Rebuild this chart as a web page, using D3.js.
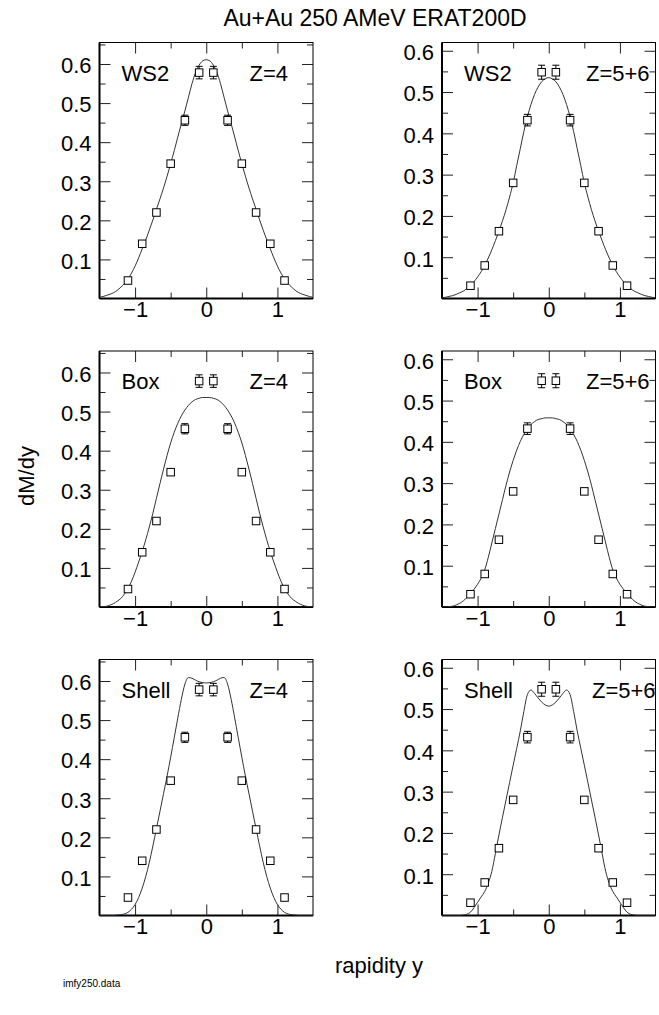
<!DOCTYPE html>
<html><head><meta charset="utf-8">
<script src="https://cdn.jsdelivr.net/npm/d3@7"></script>
<style>
body{margin:0;background:#fff}
svg{display:block}
text{font-family:"Liberation Sans",Arial,Helvetica,sans-serif;fill:#000}
</style>
</head><body>
<svg id="chart" width="659" height="1015"></svg>
<script>
// ---------- data ----------
const titleText = "Au+Au 250 AMeV ERAT200D";
const xTitle = "rapidity y";
const yTitle = "dM/dy";
const fileText = "imfy250.data";
const modelNames = ["WS2", "Box", "Shell"];
const chargeNames = ["Z=4", "Z=5+6"];
const xTickValues = [-1, 0, 1];
const xMinorValues = [-0.5, 0.5];
const yTickValues = [0.1, 0.2, 0.3, 0.4, 0.5, 0.6];
const yMinorValues = [0.05, 0.15, 0.25, 0.35, 0.45, 0.55, 0.65];

// measured points (same data in every row)
const dataX = [-1.1, -0.9, -0.7, -0.5, -0.3, -0.1, 0.1, 0.3, 0.5, 0.7, 0.9, 1.1];
const z4Y   = [0.046, 0.140, 0.220, 0.345, 0.456, 0.578, 0.578, 0.456, 0.345, 0.220, 0.140, 0.046];
const z4Err = [0, 0, 0, 0, 0.013, 0.016, 0.016, 0.013, 0, 0, 0, 0];
const z56Y  = [0.031, 0.080, 0.163, 0.280, 0.432, 0.548, 0.548, 0.432, 0.280, 0.163, 0.080, 0.031];
const z56Err = [0, 0, 0, 0, 0.014, 0.017, 0.017, 0.014, 0, 0, 0, 0];

// model curves, sampled at curveX
const curveX = [-1.5,-1.45,-1.4,-1.35,-1.3,-1.25,-1.2,-1.15,-1.1,-1.05,-1.0,-0.95,-0.9,-0.85,-0.8,-0.75,-0.7,-0.65,-0.6,-0.55,-0.5,-0.45,-0.4,-0.35,-0.3,-0.25,-0.2,-0.15,-0.1,-0.05,0,
  0.05,0.1,0.15,0.2,0.25,0.3,0.35,0.4,0.45,0.5,0.55,0.6,0.65,0.7,0.75,0.8,0.85,0.9,0.95,1.0,1.05,1.1,1.15,1.2,1.25,1.3,1.35,1.4,1.45,1.5];
const ws2Z4 = [.003,.005,.008,.011,.015,.021,.029,.038,.050,.065,.083,.104,.127,.150,.175,.201,.228,.255,.283,.313,.345,.378,.413,.447,.480,.515,.550,.578,.597,.608,.611,
  .608,.597,.578,.550,.515,.480,.447,.413,.378,.345,.313,.283,.255,.228,.201,.175,.150,.127,.104,.083,.065,.050,.038,.029,.021,.015,.011,.008,.005,.003];
const ws2Z56 = [.002,.003,.005,.007,.010,.014,.018,.024,.031,.041,.052,.065,.080,.098,.118,.140,.163,.188,.215,.246,.280,.322,.363,.404,.440,.470,.494,.512,.525,.532,.535,
  .532,.525,.512,.494,.470,.440,.404,.363,.322,.280,.246,.215,.188,.163,.140,.118,.098,.080,.065,.052,.041,.031,.024,.018,.014,.010,.007,.005,.003,.002];
const boxZ4 = [0,.001,.002,.005,.009,.015,.022,.033,.047,.066,.089,.115,.142,.172,.205,.240,.278,.316,.353,.388,.420,.447,.470,.489,.504,.516,.525,.531,.534,.536,.536,
  .536,.534,.531,.525,.516,.504,.489,.470,.447,.420,.388,.353,.316,.278,.240,.205,.172,.142,.115,.089,.066,.047,.033,.022,.015,.009,.005,.002,.001,0];
const boxZ56 = [0,0,.001,.002,.005,.009,.015,.023,.032,.043,.055,.070,.090,.120,.155,.190,.225,.260,.295,.327,.355,.380,.401,.418,.432,.442,.449,.454,.456,.458,.458,
  .458,.456,.454,.449,.442,.432,.418,.401,.380,.355,.327,.295,.260,.225,.190,.155,.120,.090,.070,.055,.043,.032,.023,.015,.009,.005,.002,.001,0,0];
const shellZ4 = [0,0,0,0,0,.001,.002,.004,.008,.016,.028,.046,.070,.100,.136,.178,.222,.267,.312,.357,.405,.455,.505,.553,.592,.609,.607,.602,.598,.596,.595,
  .596,.598,.602,.607,.609,.592,.553,.505,.455,.405,.357,.312,.267,.222,.178,.136,.100,.070,.046,.028,.016,.008,.004,.002,.001,0,0,0,0,0];
const shellZ56 = [0,0,0,0,0,0,.001,.003,.008,.019,.032,.045,.058,.078,.107,.150,.195,.238,.280,.322,.364,.405,.447,.494,.535,.546,.538,.527,.517,.510,.507,
  .510,.517,.527,.538,.546,.535,.494,.447,.405,.364,.322,.280,.238,.195,.150,.107,.078,.058,.045,.032,.019,.008,.003,.001,0,0,0,0,0,0];

// ---------- layout ----------
const colX = [99.5, 442];
const rowY = [42.5, 351, 659.5];
const panelW = 213.5, panelH = 256;
const yMaxByCol = [0.655, 0.62];
const chargeLabelDx = [[150, 144], [150, 144], [150, 150]];

const panels = [
  {row:0, col:0, curve: ws2Z4,  y: z4Y,  err: z4Err},
  {row:0, col:1, curve: ws2Z56, y: z56Y, err: z56Err},
  {row:1, col:0, curve: boxZ4,  y: z4Y,  err: z4Err},
  {row:1, col:1, curve: boxZ56, y: z56Y, err: z56Err},
  {row:2, col:0, curve: shellZ4,  y: z4Y,  err: z4Err},
  {row:2, col:1, curve: shellZ56, y: z56Y, err: z56Err}
];

const svg = d3.select("#chart");
svg.append("rect").attr("width", 659).attr("height", 1015).attr("fill", "#fff");

svg.append("text").attr("x", 375).attr("y", 26).attr("text-anchor", "middle")
  .style("font-size", "23px").text(titleText);
svg.append("text").attr("transform", "translate(34,476) rotate(-90)").attr("text-anchor", "middle")
  .style("font-size", "22px").text(yTitle);
svg.append("text").attr("x", 379).attr("y", 973).attr("text-anchor", "middle")
  .style("font-size", "22px").text(xTitle);
svg.append("text").attr("x", 63).attr("y", 987)
  .style("font-size", "10px").text(fileText);

panels.forEach((p, i) => {
  const g = svg.append("g").attr("transform", `translate(${colX[p.col]},${rowY[p.row]})`);
  const yMax = yMaxByCol[p.col];
  const x = d3.scaleLinear().domain([-1.5, 1.5]).range([0, panelW]);
  const y = d3.scaleLinear().domain([0, yMax]).range([panelH, 0]);
  const minorY = yMinorValues.filter(v => v < yMax);

  const clipId = "clip" + i;
  g.append("clipPath").attr("id", clipId).append("rect").attr("width", panelW).attr("height", panelH);

  const styleAxis = sel => {
    sel.select(".domain").remove();
    sel.selectAll(".tick line").attr("stroke", "#222").attr("stroke-width", 1);
    sel.selectAll(".tick text").style("font-size", "22px").attr("fill", "#000")
      .style("font-family", '"Liberation Sans",Arial,sans-serif');
  };

  // y ticks: left (labelled) and right
  g.append("g").call(d3.axisLeft(y).tickValues(yTickValues).tickSize(-11).tickPadding(8)
      .tickFormat(d3.format(".1f"))).call(styleAxis)
    .selectAll(".tick text").attr("dy", "0.4em");
  g.append("g").call(d3.axisLeft(y).tickValues(minorY).tickSize(-6).tickFormat("")).call(styleAxis);
  g.append("g").attr("transform", `translate(${panelW},0)`)
    .call(d3.axisRight(y).tickValues(yTickValues).tickSize(-11).tickFormat("")).call(styleAxis);
  g.append("g").attr("transform", `translate(${panelW},0)`)
    .call(d3.axisRight(y).tickValues(minorY).tickSize(-6).tickFormat("")).call(styleAxis);

  // x ticks: bottom (labelled) and top
  g.append("g").attr("transform", `translate(0,${panelH})`)
    .call(d3.axisBottom(x).tickValues(xTickValues).tickSize(-11).tickPadding(3)
      .tickFormat(d3.format("d"))).call(styleAxis);
  g.append("g").attr("transform", `translate(0,${panelH})`)
    .call(d3.axisBottom(x).tickValues(xMinorValues).tickSize(-6).tickFormat("")).call(styleAxis);
  g.append("g").call(d3.axisTop(x).tickValues(xTickValues).tickSize(-11).tickFormat("")).call(styleAxis);
  g.append("g").call(d3.axisTop(x).tickValues(xMinorValues).tickSize(-6).tickFormat("")).call(styleAxis);

  // frame
  g.append("rect").attr("width", panelW).attr("height", panelH)
    .attr("fill", "none").attr("stroke", "#000").attr("stroke-width", 1);
  g.append("line").attr("x1", 0).attr("x2", 0).attr("y1", 0).attr("y2", panelH)
    .attr("stroke", "#000").attr("stroke-width", 2);
  g.append("line").attr("x1", 0).attr("x2", panelW).attr("y1", panelH).attr("y2", panelH)
    .attr("stroke", "#000").attr("stroke-width", 2);

  // model curve
  const line = d3.line().x((d, k) => x(curveX[k])).y(d => y(d)).curve(d3.curveMonotoneX);
  g.append("path").datum(p.curve).attr("clip-path", `url(#${clipId})`)
    .attr("d", line).attr("fill", "none").attr("stroke", "#333").attr("stroke-width", 1);

  // data points with error bars
  const pts = dataX.map((xv, k) => ({x: xv, y: p.y[k], e: p.err[k]}));
  const eb = g.append("g").attr("stroke", "#000").attr("stroke-width", 1);
  pts.filter(d => d.e > 0).forEach(d => {
    const cx = x(d.x);
    eb.append("line").attr("x1", cx).attr("x2", cx).attr("y1", y(d.y + d.e)).attr("y2", y(d.y - d.e));
    eb.append("line").attr("x1", cx - 3.5).attr("x2", cx + 3.5).attr("y1", y(d.y + d.e)).attr("y2", y(d.y + d.e));
    eb.append("line").attr("x1", cx - 3.5).attr("x2", cx + 3.5).attr("y1", y(d.y - d.e)).attr("y2", y(d.y - d.e));
  });
  g.append("g").selectAll("rect").data(pts).join("rect")
    .attr("x", d => x(d.x) - 3.75).attr("y", d => y(d.y) - 3.75)
    .attr("width", 7.5).attr("height", 7.5)
    .attr("fill", "#fff").attr("stroke", "#000").attr("stroke-width", 1);

  // labels
  g.append("text").attr("x", 22).attr("y", 38).style("font-size", "22px").text(modelNames[p.row]);
  g.append("text").attr("x", chargeLabelDx[p.row][p.col]).attr("y", 38).style("font-size", "22px")
    .text(chargeNames[p.col]);
});
</script>
</body></html>
